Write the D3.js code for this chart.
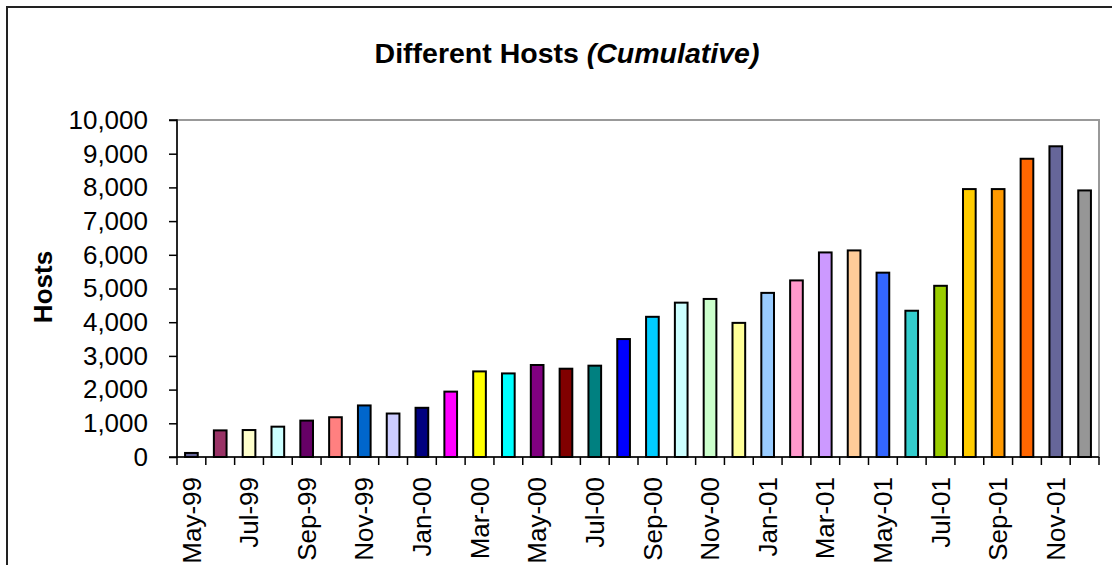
<!DOCTYPE html>
<html>
<head>
<meta charset="utf-8">
<script src="https://cdn.jsdelivr.net/npm/d3@7"></script>
<style>
  body { margin: 0; background: #fff; }
  svg { display: block; font-family: "Liberation Sans", Arial, sans-serif; }
</style>
</head>
<body>
<svg id="vis" width="1112" height="565"></svg>
<script>
const svg = d3.select("#vis");

// months May-99 .. Dec-01
const MONTHS = ["May-99", "Jun-99", "Jul-99", "Aug-99", "Sep-99", "Oct-99", "Nov-99", "Dec-99",
  "Jan-00", "Feb-00", "Mar-00", "Apr-00", "May-00", "Jun-00", "Jul-00", "Aug-00",
  "Sep-00", "Oct-00", "Nov-00", "Dec-00", "Jan-01", "Feb-01", "Mar-01", "Apr-01",
  "May-01", "Jun-01", "Jul-01", "Aug-01", "Sep-01", "Oct-01", "Nov-01", "Dec-01"];
const HOSTS = [120, 790, 800, 900, 1080, 1180, 1530, 1290, 1460, 1940, 2540, 2480,
  2730, 2620, 2710, 3500, 4160, 4580, 4690, 3980, 4870, 5240, 6070, 6130,
  5470, 4340, 5080, 7950, 7950, 8850, 9220, 7910];
// excel "vary colors by point" palette
const COLORS = ["#666699", "#993366", "#FFFFCC", "#CCFFFF", "#660066", "#FF8080", "#0066CC", "#CCCCFF",
  "#000080", "#FF00FF", "#FFFF00", "#00FFFF", "#800080", "#800000", "#008080", "#0000FF",
  "#00CCFF", "#CCFFFF", "#CCFFCC", "#FFFF99", "#99CCFF", "#FF99CC", "#CC99FF", "#FFCC99",
  "#3366FF", "#33CCCC", "#99CC00", "#FFCC00", "#FF9900", "#FF6600", "#666699", "#969696"];
const Y_TICKS = [0, 1000, 2000, 3000, 4000, 5000, 6000, 7000, 8000, 9000, 10000];

const plotLeft = 177, plotRight = 1099, plotTop = 120, plotBottom = 457;

const x = d3.scaleBand().domain(MONTHS).range([plotLeft, plotRight]).paddingInner(0.56).paddingOuter(0.28);
const y = d3.scaleLinear().domain([0, 10000]).range([plotBottom, plotTop]);

// outer chart border (runs off the right/bottom of the shot)
svg.append("rect")
  .attr("x", 7).attr("y", 7).attr("width", 1200).attr("height", 700)
  .attr("fill", "none").attr("stroke", "#222").attr("stroke-width", 2);

// title
const title = svg.append("text")
  .attr("x", 567).attr("y", 63)
  .attr("text-anchor", "middle")
  .style("font-size", "28.5px").style("font-weight", "bold");
title.append("tspan").text("Different Hosts ");
title.append("tspan").style("font-style", "italic").text("(Cumulative)");

// plot area border
svg.append("rect")
  .attr("x", plotLeft).attr("y", plotTop).attr("width", plotRight - plotLeft).attr("height", plotBottom - plotTop)
  .attr("fill", "none").attr("stroke", "#999").attr("stroke-width", 2);

// bars
svg.selectAll(".bar").data(MONTHS).join("rect")
  .attr("class", "bar")
  .attr("x", d => x(d))
  .attr("width", x.bandwidth())
  .attr("y", (d, i) => y(HOSTS[i]))
  .attr("height", (d, i) => y(0) - y(HOSTS[i]))
  .attr("fill", (d, i) => COLORS[i])
  .attr("stroke", "#000").attr("stroke-width", 2);

// y axis
const yAxis = svg.append("g")
  .attr("transform", `translate(${plotLeft},0)`)
  .call(d3.axisLeft(y).tickValues(Y_TICKS).tickSize(8).tickPadding(21).tickFormat(d3.format(",")));
yAxis.selectAll("path, line").attr("stroke", "#000").attr("stroke-width", 1.5);
yAxis.select(".domain").attr("d", `M-8,${plotTop}H0V${plotBottom}H-8`);
yAxis.selectAll("text").style("font-size", "26px").attr("fill", "#000").attr("font-family", null);

// x axis: ticks between categories, label every other month
const bounds = d3.range(MONTHS.length + 1).map(i => plotLeft + i * (plotRight - plotLeft) / MONTHS.length);
const xg = svg.append("g");
xg.append("line").attr("x1", plotLeft).attr("x2", plotRight).attr("y1", plotBottom).attr("y2", plotBottom)
  .attr("stroke", "#000").attr("stroke-width", 1.5);
xg.selectAll(".xtick").data(bounds).join("line")
  .attr("x1", d => d).attr("x2", d => d).attr("y1", plotBottom).attr("y2", plotBottom + 8)
  .attr("stroke", "#000").attr("stroke-width", 1.5);
xg.selectAll(".xlabel").data(MONTHS.filter((d, i) => i % 2 === 0)).join("text")
  .attr("transform", d => `translate(${x(d) + x.bandwidth() / 2},${plotBottom + 20}) rotate(-90)`)
  .attr("text-anchor", "end")
  .attr("dy", "0.35em")
  .style("font-size", "26px")
  .text(d => d);

// y title
svg.append("text")
  .attr("transform", "translate(52,287) rotate(-90)")
  .attr("text-anchor", "middle")
  .style("font-size", "26px").style("font-weight", "bold")
  .text("Hosts");
</script>
</body>
</html>
